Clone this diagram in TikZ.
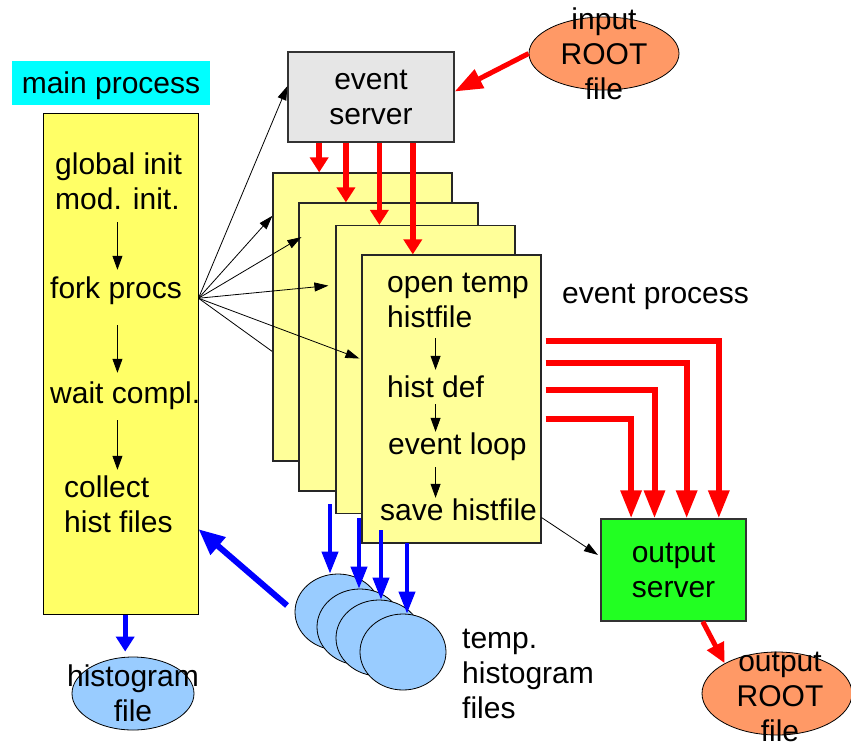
\documentclass[tikz,border=0pt]{standalone}
\usepackage{fontspec}
\setmainfont{Liberation Sans}
\usetikzlibrary{arrows.meta,calc,shapes.geometric}

\definecolor{mainyellow}{HTML}{FFFF66}
\definecolor{procyellow}{HTML}{FFFF99}
\definecolor{servergrey}{HTML}{E6E6E6}
\definecolor{rootorange}{HTML}{FF9966}
\definecolor{histblue}{HTML}{99CCFF}
\definecolor{outgreen}{HTML}{22FF22}
\definecolor{labelcyan}{HTML}{00FFFF}

\begin{document}
\begin{tikzpicture}[x=1pt,y=-1pt,
  every node/.style={font=\fontsize{30}{35}\selectfont,inner sep=0pt},
  txt/.style={text height=22pt,text depth=7pt},
  procbox/.style={draw=black!85,line width=1.2pt,fill=procyellow,minimum width=179pt,minimum height=288pt},
  tmpfile/.style={ellipse,draw=black,line width=0.8pt,fill=histblue,minimum width=86pt,minimum height=76pt},
  rootfile/.style={ellipse,draw=black,line width=0.8pt,fill=rootorange,minimum width=150pt},
  flow/.style={line width=0.8pt,-{Triangle[length=14pt,width=10pt]}},
  fan/.style={line width=0.8pt,-{Triangle[length=14pt,width=9pt]}},
  feed/.style={red,line width=5.5pt,-{Triangle[length=15pt,width=18pt]}},
  merge/.style={red,line width=6pt,-{Triangle[length=28pt,width=20pt]}},
  spill/.style={blue,line width=4pt,-{Triangle[length=22pt,width=16pt]}}]
\useasboundingbox (0,0) rectangle (851,744);

% main process
\node[fill=labelcyan,minimum width=198pt,minimum height=44pt] (mp) at (111,83) {};
\node[txt,anchor=base] (mplabel) at (111,93) {main process};
\node[draw=black,line width=1pt,fill=mainyellow,minimum width=155pt,minimum height=501pt] (mainbox) at (120.5,363.5) {};
\node[txt,anchor=base west] (gi) at (55,174) {global init};
\node[txt,anchor=base west] (mi) at (55,209) {mod. init.};
\node[txt,anchor=base west] (fp) at (50,298) {fork procs};
\node[txt,anchor=base west] (wc) at (50,403) {wait compl.};
\node[txt,anchor=base west] (co) at (64,497) {collect};
\node[txt,anchor=base west] (hf) at (64,532) {hist files};
\draw[flow,shorten <=6pt,shorten >=6pt] (mi.south) -- (mi.south |- fp.north);
\draw[flow,shorten <=20pt,shorten >=8pt] (mi.south |- fp.south) -- (mi.south |- wc.north);
\draw[flow,shorten <=10pt,shorten >=5pt] (mi.south |- wc.south) -- (mi.south |- co.north);

% event server and input
\node[draw=black!80,line width=1.2pt,fill=servergrey,minimum width=166pt,minimum height=90pt,align=center] (ev) at (371,97) {event\\server};
\node[rootfile,minimum height=73pt] (inroot) at (604,53.5) {};
\node[align=center] (inlabel) at (inroot) {input\\ROOT\\file};
\draw[red,line width=5pt,-{Triangle[length=28pt,width=20pt]}] (inroot.west) -- ($(ev.north east)!0.44!(ev.south east)$);

% fan out to the event processes
\coordinate (fork) at ($(mainbox.north east)!0.37!(mainbox.south east)$);
\coordinate (k5) at (273,352);
\draw[line width=0.8pt] (fork) -- (k5);
\node[procbox] (box1) at (362.5,317) {};
\node[procbox] (box2) at (388.5,347) {};
\node[procbox] (box3) at (425.5,369.5) {};
\node[procbox] (box4) at (451.5,399) {};
\node[txt,anchor=base west] (optemp) at (387,292) {open temp};
\node[txt,anchor=base west] (hfile) at (387,327) {histfile};
\node[txt,anchor=base west] (hdef) at (387,397) {hist def};
\node[txt,anchor=base west] (evloop) at (388,454) {event loop};
\node[txt,anchor=base west] (savehf) at (380,520) {save histfile};
\draw[flow,shorten <=4pt,shorten >=5pt] (hfile.south -| hdef.north) -- (hdef.north);
\draw[flow] (hdef.south) -- (hdef.south |- evloop.north);
\draw[flow,shorten <=6pt] (hdef.south |- evloop.south) -- (hdef.south |- savehf.north);
\draw[fan] (fork) -- ($(ev.north west)!0.38!(ev.south west)$);
\draw[fan] (fork) -- ($(box1.north west)!0.15!(box1.south west)$);
\draw[fan] (fork) -- ([xshift=3pt]$(box2.north west)!0.12!(box2.south west)$);
\draw[fan] (fork) -- ([xshift=-7pt]$(box3.north west)!0.21!(box3.south west)$);
\draw[fan] (fork) -- ([xshift=-2pt]$(box4.north west)!0.36!(box4.south west)$);

% events to the processes
\coordinate (f1) at ($(ev.south west)!0.19!(ev.south east)$);
\coordinate (f2) at ($(ev.south west)!0.35!(ev.south east)$);
\coordinate (f3) at ($(ev.south west)!0.55!(ev.south east)$);
\coordinate (f4) at ($(ev.south west)!0.75!(ev.south east)$);
\draw[feed] (f1) -- (f1 |- box1.north);
\draw[feed] (f2) -- (f2 |- box2.north);
\draw[feed] (f3) -- (f3 |- box3.north);
\draw[feed] (f4) -- (f4 |- box4.north);
\node[anchor=base west] (evproc) at (562,303) {event process};

% output server
\node[draw=black!80,line width=1.2pt,fill=outgreen,minimum width=145pt,minimum height=102pt,align=center] (outsrv) at (673.5,570) {output\\server};
\coordinate (o1) at ($(box4.north east)!0.30!(box4.south east)$);
\coordinate (o2) at ($(box4.north east)!0.375!(box4.south east)$);
\coordinate (o3) at ($(box4.north east)!0.47!(box4.south east)$);
\coordinate (o4) at ($(box4.north east)!0.57!(box4.south east)$);
\coordinate (q1) at ($(outsrv.north west)!0.81!(outsrv.north east)$);
\coordinate (q2) at ($(outsrv.north west)!0.59!(outsrv.north east)$);
\coordinate (q3) at ($(outsrv.north west)!0.37!(outsrv.north east)$);
\coordinate (q4) at ($(outsrv.north west)!0.21!(outsrv.north east)$);
\draw[merge,shorten <=4pt] (o1) -| (q1);
\draw[merge,shorten <=4pt] (o2) -| (q2);
\draw[merge,shorten <=4pt] (o3) -| (q3);
\draw[merge,shorten <=4pt] (o4) -| (q4);
\draw[fan,shorten >=3pt] ($(box4.north east)!0.91!(box4.south east)$) -- ($(outsrv.north west)!0.37!(outsrv.south west)$);
\node[rootfile,minimum height=83pt] (outroot) at (777,693.5) {};
\node[align=center] (outlabel) at ([xshift=3pt,yshift=-3pt]outroot) {output\\ROOT\\file};
\draw[red,line width=5pt,-{Triangle[length=20pt,width=18pt]}] ($(outsrv.south west)!0.70!(outsrv.south east)$) -- (outroot.150);

% temporary histogram files
\node[tmpfile] (e1) at (338,612) {};
\node[tmpfile] (e2) at (360,627) {};
\node[tmpfile] (e3) at (379,638) {};
\node[tmpfile] (e4) at (403,652) {};
\coordinate (t1) at (330,504);
\coordinate (t2) at (359,518);
\coordinate (t3) at (381,530);
\coordinate (t4) at (407,543);
\draw[spill] (t1) -- (t1 |- e1.north);
\draw[spill] (t2) -- (t2 |- e2.north);
\draw[spill] (t3) -- (t3 |- e3.north);
\draw[spill] (t4) -- (t4 |- e4.north);
\node[anchor=base west] (tmp1) at (462,648) {temp.};
\node[anchor=base west] (tmp2) at (462,683) {histogram};
\node[anchor=base west] (tmp3) at (462,718) {files};
\draw[blue,line width=6pt,-{Triangle[length=26pt,width=22pt]},shorten <=10pt] (e1.west) -- ($(mainbox.north east)!0.83!(mainbox.south east)$);

% final histogram file
\node[ellipse,draw=black,line width=0.8pt,fill=histblue,minimum width=122pt,minimum height=73pt] (histo) at (133,693.5) {};
\node[align=center] (histlabel) at (histo) {histogram\\file};
\coordinate (h0) at ($(mainbox.south west)!0.53!(mainbox.south east)$);
\draw[blue,line width=5pt,-{Triangle[length=15pt,width=18pt]},shorten >=5pt] (h0) -- (h0 |- histo.north);
\end{tikzpicture}
\end{document}
